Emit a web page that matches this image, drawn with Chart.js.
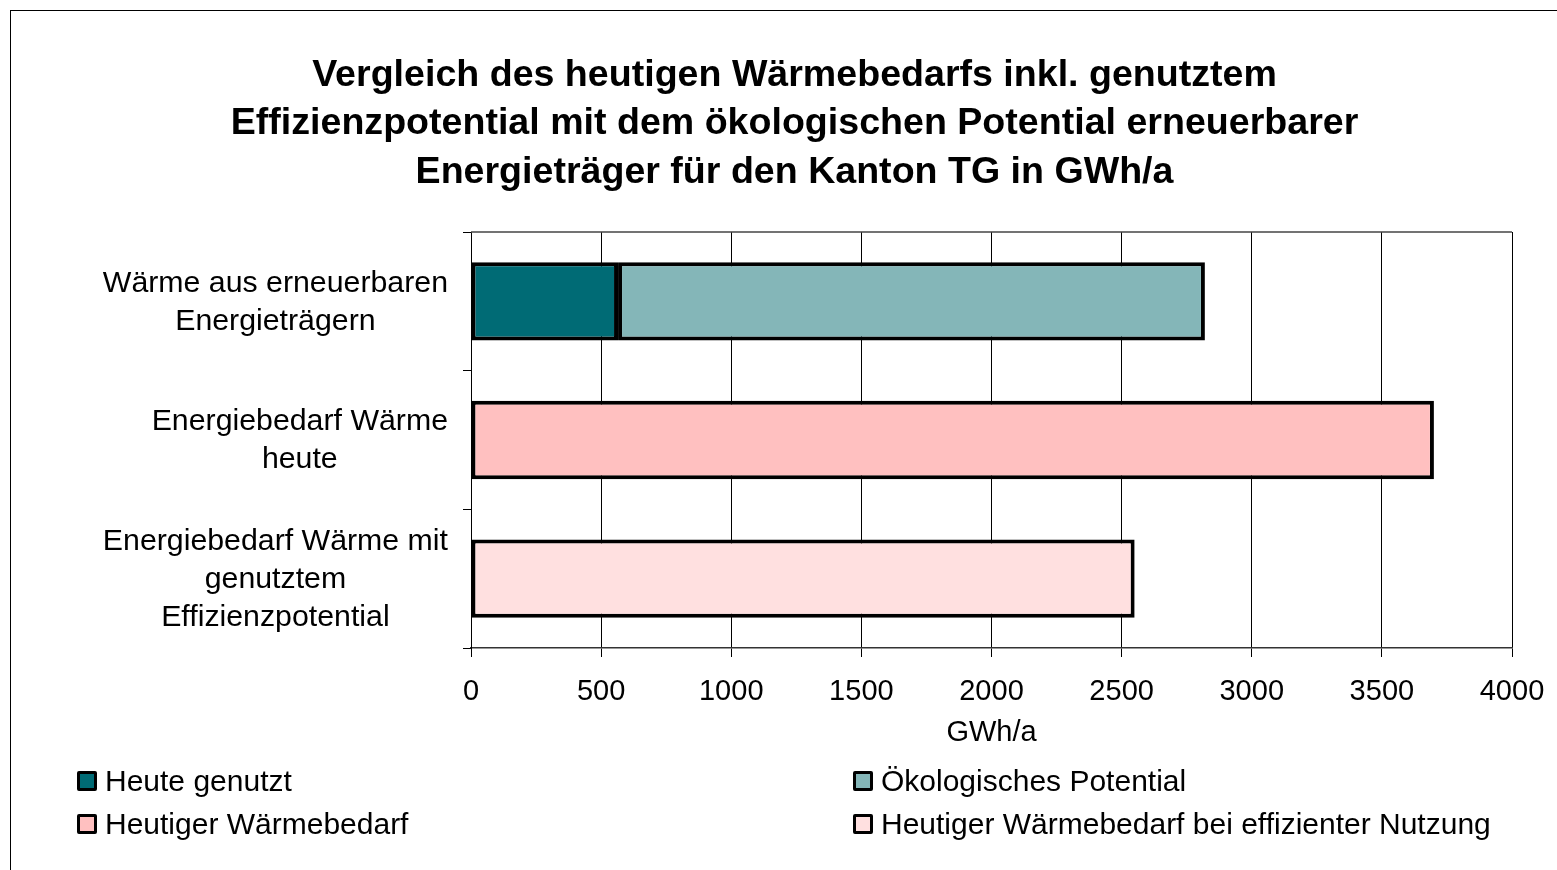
<!DOCTYPE html>
<html>
<head>
<meta charset="utf-8">
<script src="https://cdn.jsdelivr.net/npm/chart.js@4.4.1/dist/chart.umd.min.js"></script>
<style>
  html, body { margin: 0; padding: 0; background: #fff; }
  body { width: 1557px; height: 870px; position: relative; overflow: hidden; font-family: "Liberation Sans", Arial, sans-serif; }
  #frame { position: absolute; left: 10px; top: 10px; width: 1600px; height: 900px; border-left: 1.5px solid #000; border-top: 1.5px solid #000; }
  #chart { position: absolute; left: 0; top: 0; }
  .lg { position: absolute; display: flex; align-items: center; font-size: 30px; color: #000; white-space: nowrap; }
  .lg i { display: inline-block; width: 14px; height: 14px; border: 3px solid #000; border-radius: 2px; margin-right: 8px; }
</style>
</head>
<body>
<div id="frame"></div>
<canvas id="chart" width="1557" height="870"></canvas>
<div id="legend"></div>
<script>
const categories = [
  ['Wärme aus erneuerbaren', 'Energieträgern'],
  ['Energiebedarf Wärme', 'heute'],
  ['Energiebedarf Wärme mit', 'genutztem', 'Effizienzpotential']
]
const heuteGenutzt = [565, null, null]
const oekoPotential = [2255, null, null]
const waermebedarfHeute = [null, 3700, null]
const waermebedarfEffizient = [null, null, 2550]
const xTicks = [0, 500, 1000, 1500, 2000, 2500, 3000, 3500, 4000]

const font = '"Liberation Sans", Arial, sans-serif'

// plot area top border (grey line like in Excel)
const plotBorder = {
  id: 'plotBorder',
  beforeDatasetsDraw(chart) {
    const { ctx, chartArea } = chart
    ctx.save()
    ctx.strokeStyle = '#444'
    ctx.lineWidth = 1.5
    ctx.beginPath()
    ctx.moveTo(chartArea.left, chartArea.top)
    ctx.lineTo(chartArea.right, chartArea.top)
    ctx.stroke()
    ctx.restore()
  }
}

// category labels: each block right aligned, its lines centred (Excel style)
const catLabels = {
  id: 'catLabels',
  afterDraw(chart) {
    const { ctx, chartArea } = chart
    const y = chart.scales.y
    const lh = 38
    ctx.save()
    ctx.font = '30.3px ' + font
    ctx.fillStyle = '#000'
    ctx.textAlign = 'center'
    ctx.textBaseline = 'middle'
    categories.forEach((lines, i) => {
      const w = Math.max(...lines.map(l => ctx.measureText(l).width))
      const cx = chartArea.left - 23 - w / 2
      const cy = y.getPixelForTick(i) + 1
      lines.forEach((l, j) => {
        ctx.fillText(l, cx, cy + (j - (lines.length - 1) / 2) * lh)
      })
    })
    ctx.restore()
  }
}

const bar = (label, data, color) => ({
  label: label,
  data: data,
  backgroundColor: color,
  borderColor: '#000',
  borderWidth: 4,
  borderSkipped: false,
  barPercentage: 0.565,
  categoryPercentage: 1
})

const chart = new Chart(document.getElementById('chart'), {
  type: 'bar',
  data: {
    labels: categories,
    datasets: [
      bar('Heute genutzt', heuteGenutzt, '#006B75'),
      bar('Ökologisches Potential', oekoPotential, '#84B6B8'),
      bar('Heutiger Wärmebedarf', waermebedarfHeute, '#FFC0C0'),
      bar('Heutiger Wärmebedarf bei effizienter Nutzung', waermebedarfEffizient, '#FFE0E0')
    ]
  },
  options: {
    indexAxis: 'y',
    responsive: false,
    animation: false,
    layout: { autoPadding: false, padding: { left: 77, right: 45, top: 51, bottom: 112 } },
    plugins: {
      legend: { display: false },
      tooltip: { enabled: false },
      title: {
        display: true,
        text: [
          'Vergleich des heutigen Wärmebedarfs inkl. genutztem',
          'Effizienzpotential mit dem ökologischen Potential erneuerbarer',
          'Energieträger für den Kanton TG in GWh/a'
        ],
        color: '#000',
        font: { family: font, size: 37.6, weight: 'bold', lineHeight: 1.29 },
        padding: { top: 0, bottom: 35.5 }
      }
    },
    scales: {
      x: {
        stacked: true,
        min: 0,
        max: 4000,
        afterBuildTicks(scale) { scale.ticks = xTicks.map(v => ({ value: v })) },
        afterFit(scale) {
          scale.height = 110
          scale.paddingLeft = 0
          scale.paddingRight = 0
        },
        grid: { color: '#000', lineWidth: 1, tickLength: 9, tickColor: '#000' },
        border: { color: '#333', width: 1.5 },
        ticks: {
          color: '#000', autoSkip: false, maxRotation: 0, padding: 18,
          font: { family: font, size: 29 },
          callback: v => String(v)
        },
        title: { display: true, text: 'GWh/a', color: '#000', font: { family: font, size: 29 }, padding: { top: 0, bottom: 8 } }
      },
      y: {
        stacked: true,
        afterFit(scale) { scale.width = 394 },
        grid: { offset: true, drawOnChartArea: false, tickLength: 8, tickColor: '#000', lineWidth: 1 },
        border: { color: '#000', width: 1 },
        ticks: { display: false }
      }
    }
  },
  plugins: [plotBorder, catLabels]
})

// legend in two columns below the chart, built from the datasets
const legendPos = [[77, 781], [853, 781], [77, 824], [853, 824]]
const legend = document.getElementById('legend')
chart.data.datasets.forEach((ds, i) => {
  const item = document.createElement('div')
  item.className = 'lg'
  item.style.left = legendPos[i][0] + 'px'
  item.style.top = (legendPos[i][1] - 18) + 'px'
  item.style.height = '36px'
  const box = document.createElement('i')
  box.style.background = ds.backgroundColor
  item.appendChild(box)
  item.appendChild(document.createTextNode(ds.label))
  legend.appendChild(item)
})
</script>
</body>
</html>
